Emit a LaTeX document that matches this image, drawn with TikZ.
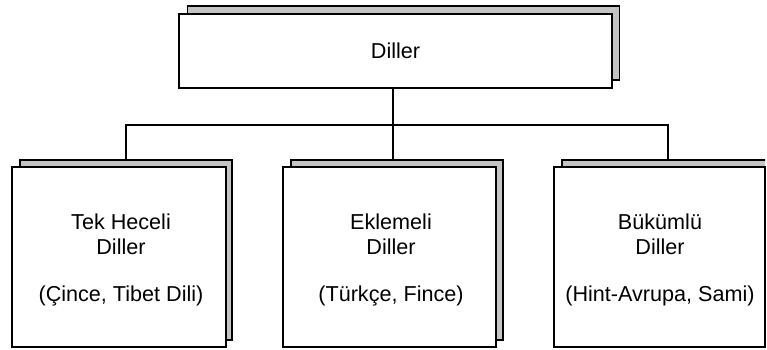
\documentclass[tikz,border=0pt]{standalone}
\usepackage{fontspec}
\setmainfont{Liberation Sans}
\definecolor{shadowgray}{RGB}{196,196,196}
\begin{document}
\begin{tikzpicture}[x=1pt,y=-1pt,
  every node/.style={inner sep=0pt, outer sep=0pt},
  boxline/.style={draw=black, line width=1.3pt},
  frontbox/.style={boxline, fill=white, rectangle},
  backbox/.style={boxline, fill=shadowgray, rectangle},
  label/.style={align=center, font=\fontsize{21.6}{25}\selectfont},
  link/.style={draw=black, line width=1.2pt}]
\useasboundingbox (0,0) rectangle (767,349);
\clip (0,0) rectangle (767,349);

% top box with its shifted back copy
\node[backbox, minimum width=432pt, minimum height=74pt] (tops) at (403.5,43) {};
\node[frontbox, minimum width=433pt, minimum height=74pt] (top) at (395.5,51) {};
\node[label] (toptext) at (top.center) {Diller};

% three category boxes
\node[backbox, minimum width=212pt, minimum height=180pt] (c1s) at (126,250) {};
\node[frontbox, minimum width=214pt, minimum height=180pt] (c1) at (119,257) {};
\node[label] (c1text) at (121,260) {Tek Heceli\\Diller\\[22pt](Çince, Tibet Dili)};

\node[backbox, minimum width=212pt, minimum height=180pt] (c2s) at (397,250) {};
\node[frontbox, minimum width=213pt, minimum height=180pt] (c2) at (389.5,257) {};
\node[label] (c2text) at (391,260) {Eklemeli\\Diller\\[22pt](Türkçe, Fince)};

% the back copy of the right box runs past the page edge
\begin{scope}
  \clip (0,0) rectangle (765,349);
  \node[backbox, minimum width=212pt, minimum height=180pt] (c3s) at (668,250) {};
\end{scope}
\node[frontbox, minimum width=211pt, minimum height=180pt] (c3) at (659.5,257) {};
\node[label] (c3text) at (660,260) {Bükümlü\\Diller\\[22pt](Hint-Avrupa, Sami)};

% tree connectors
\coordinate (bus) at (393,125);
\draw[link] (top.south -| bus) -- (bus) -- (bus |- c2s.north);
\draw[link] (c1s.north) |- (bus) -| (c3s.north);
\end{tikzpicture}
\end{document}
